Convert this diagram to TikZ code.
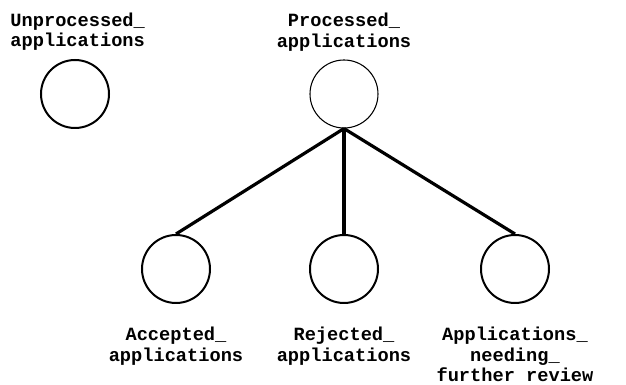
\documentclass[tikz,border=0pt]{standalone}
\usepackage{fontspec}
\newfontfamily\labelfont{Liberation Mono}
\usetikzlibrary{positioning}

\begin{document}
\begin{tikzpicture}[
    x=0.75pt, y=0.75pt,
    setnode/.style={circle, draw=black, minimum size=51pt, inner sep=0pt, line width=1.5pt},
    thinset/.style={setnode, line width=0.8pt},
    setlabel/.style={font=\labelfont\bfseries\fontsize{14}{15.5}\selectfont,
                     align=center, inner sep=0pt},
    link/.style={line width=2.4pt}
]
\useasboundingbox (0,0) rectangle (626,385);

% --- top row ---
\node[setnode] (unproc) at (75,291) {};
\node[thinset] (proc) at (344,291) {};
\node[setlabel, above=6pt of unproc, xshift=2pt] (unproclbl) {Unprocessed\_\\applications};
\node[setlabel, above=6pt of proc] (proclbl) {Processed\_\\applications};

% --- bottom row ---
\node[setnode] (acc) at (176,116) {};
\node[setnode] (rej) at (344,116) {};
\node[setnode] (review) at (515,116) {};
\node[setlabel, below=17pt of acc] (acclbl) {Accepted\_\\applications};
\node[setlabel, below=17pt of rej] (rejlbl) {Rejected\_\\applications};
\node[setlabel, below=17pt of review] (reviewlbl) {Applications\_\\needing\_\\further review};

% links
\draw[link] (proc.south) -- (acc.north);
\draw[link] (proc.south) -- (rej.north);
\draw[link] (proc.south) -- (review.north);

\end{tikzpicture}
\end{document}
